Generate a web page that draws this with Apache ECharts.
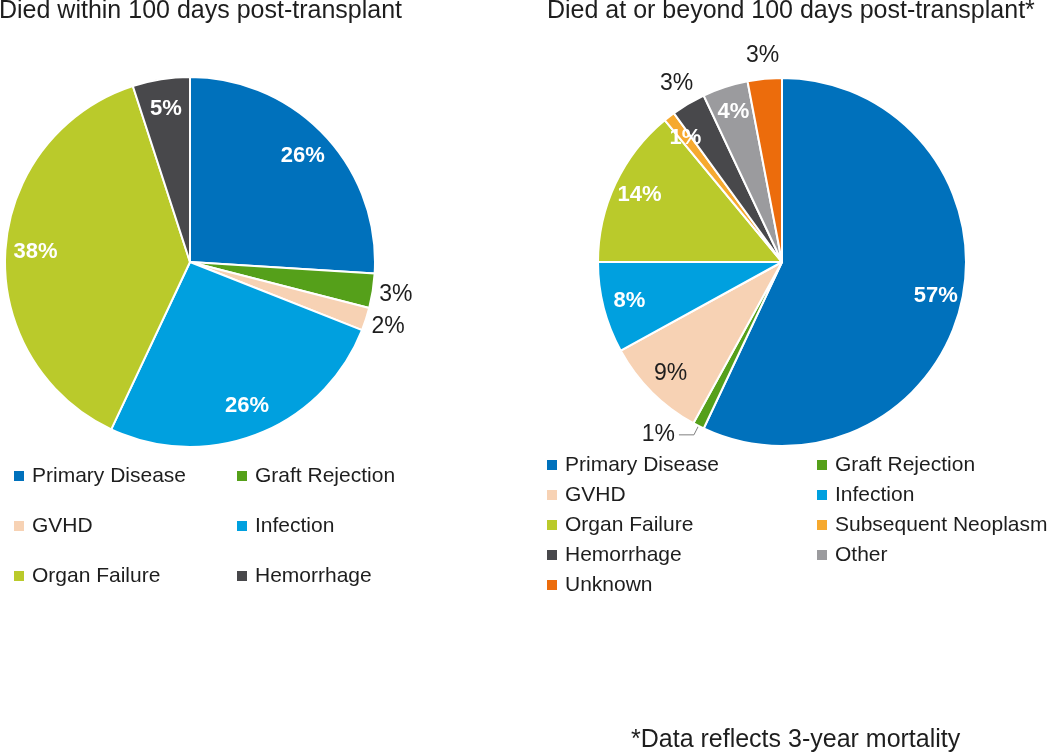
<!DOCTYPE html>
<html>
<head>
<meta charset="utf-8">
<script src="https://cdn.jsdelivr.net/npm/echarts@6/dist/echarts.min.js"></script>
<style>html,body{margin:0;padding:0;background:#fff;}#c{width:1050px;height:756px;}</style>
</head>
<body>
<div id="c"></div>
<script>
// ---- data ----
const leftTitle = 'Died within 100 days post-transplant';
const rightTitle = 'Died at or beyond 100 days post-transplant*';
const footnote = '*Data reflects 3-year mortality';
const leftNames = ['Primary Disease', 'Graft Rejection', 'GVHD', 'Infection', 'Organ Failure', 'Hemorrhage'];
const leftValues = [26, 3, 2, 26, 38, 5];
const rightNames = ['Primary Disease', 'Graft Rejection', 'GVHD', 'Infection', 'Organ Failure', 'Subsequent Neoplasm', 'Hemorrhage', 'Other', 'Unknown'];
const rightValues = [57, 1, 9, 8, 14, 1, 3, 4, 3];

// ---- styling ----
const colors = {
  'Primary Disease': '#0071BC',
  'Graft Rejection': '#55A01A',
  'GVHD': '#F7D2B4',
  'Infection': '#00A0DF',
  'Organ Failure': '#BACA2B',
  'Subsequent Neoplasm': '#F6A92F',
  'Hemorrhage': '#48484B',
  'Other': '#9B9B9E',
  'Unknown': '#EC6C0C'
};
const FONT = '"Liberation Sans", Arial, sans-serif';
const TXT = '#1e1e1e';
// label placement per item: 'in' (inner ring), 'out' (outer ring), 'line' (outside with leader)
const leftPlace = {'Graft Rejection': 'out', 'GVHD': 'out'};
const rightPlace = {'Graft Rejection': 'line', 'Hemorrhage': 'out', 'Unknown': 'out'};
const darkInner = {'GVHD': true};

const L = {center: [190, 262], R: 185, inner: 0.64};
const Rt = {center: [782, 262], R: 184, inner: 0.68};

const innerBold = {fontFamily: FONT, fontSize: 22, fontWeight: 'bold', color: '#fff'};
const innerDark = {fontFamily: FONT, fontSize: 23, fontWeight: 'normal', color: TXT};
const outerTxt = {fontFamily: FONT, fontSize: 23, fontWeight: 'normal', color: TXT};

function mainSeries(names, values, geo, place) {
  return {
    type: 'pie', center: geo.center, radius: [0, geo.R], startAngle: 90, clockwise: true,
    avoidLabelOverlap: false,
    itemStyle: {borderColor: '#fff', borderWidth: 2},
    label: {show: false},
    labelLine: {show: false},
    emphasis: {disabled: true},
    data: names.map((n, i) => {
      const d = {name: n, value: values[i], itemStyle: {color: colors[n]}};
      if (place[n] === 'line') {
        d.label = Object.assign({show: true, position: 'outside', formatter: '{c}%', distanceToLabelLine: 4, padding: [0, 0, 8, 0]}, outerTxt);
        d.labelLine = {show: true, length: 10, length2: 15, lineStyle: {color: '#7f7f7f', width: 1}};
      }
      return d;
    })
  };
}
function ringSeries(names, values, geo, place, which) {
  const radius = which === 'in' ? [geo.R * geo.inner, geo.R] : [geo.R, geo.R * 1.22];
  return {
    type: 'pie', center: geo.center, radius: radius, startAngle: 90, clockwise: true,
    silent: true, avoidLabelOverlap: false,
    itemStyle: {color: 'rgba(0,0,0,0)', borderWidth: 0},
    labelLine: {show: false},
    emphasis: {disabled: true},
    tooltip: {show: false},
    label: {show: false, position: 'inside', formatter: '{c}%'},
    data: names.map((n, i) => {
      const p = place[n] || 'in';
      const style = which === 'out' ? outerTxt : (darkInner[n] ? innerDark : innerBold);
      return {name: n, value: values[i],
        label: Object.assign({show: p === which, position: 'inside', formatter: '{c}%'}, style)};
    })
  };
}
function legend(data, left, top, gap) {
  return {
    data: data, orient: 'vertical', left: left, top: top, padding: 0, itemGap: gap,
    icon: 'rect', itemWidth: 10, itemHeight: 10, selectedMode: false,
    itemStyle: {borderWidth: 0},
    textStyle: {fontFamily: FONT, fontSize: 21, color: TXT, lineHeight: 22, padding: [0, 0, 0, 3]}
  };
}
const titleStyle = {fontFamily: FONT, fontSize: 25, fontWeight: 'normal', color: TXT};

const chart = echarts.init(document.getElementById('c'));
chart.setOption({
  backgroundColor: '#fff',
  animation: false,
  title: [
    {text: leftTitle, left: -1, top: -1, padding: 0, textStyle: titleStyle},
    {text: rightTitle, left: 547, top: -1, padding: 0, textStyle: titleStyle},
    {text: footnote, left: 631, top: 728, padding: 0, textStyle: titleStyle}
  ],
  legend: [
    legend(['Primary Disease', 'GVHD', 'Organ Failure'], 14, 465, 28),
    legend(['Graft Rejection', 'Infection', 'Hemorrhage'], 237, 465, 28),
    legend(['Primary Disease', 'GVHD', 'Organ Failure', 'Hemorrhage', 'Unknown'], 547, 454, 8),
    legend(['Graft Rejection', 'Infection', 'Subsequent Neoplasm', 'Other'], 817, 454, 8)
  ],
  series: [
    mainSeries(leftNames, leftValues, L, leftPlace),
    mainSeries(rightNames, rightValues, Rt, rightPlace),
    ringSeries(leftNames, leftValues, L, leftPlace, 'in'),
    ringSeries(leftNames, leftValues, L, leftPlace, 'out'),
    ringSeries(rightNames, rightValues, Rt, rightPlace, 'in'),
    ringSeries(rightNames, rightValues, Rt, rightPlace, 'out')
  ]
});
</script>
</body>
</html>
